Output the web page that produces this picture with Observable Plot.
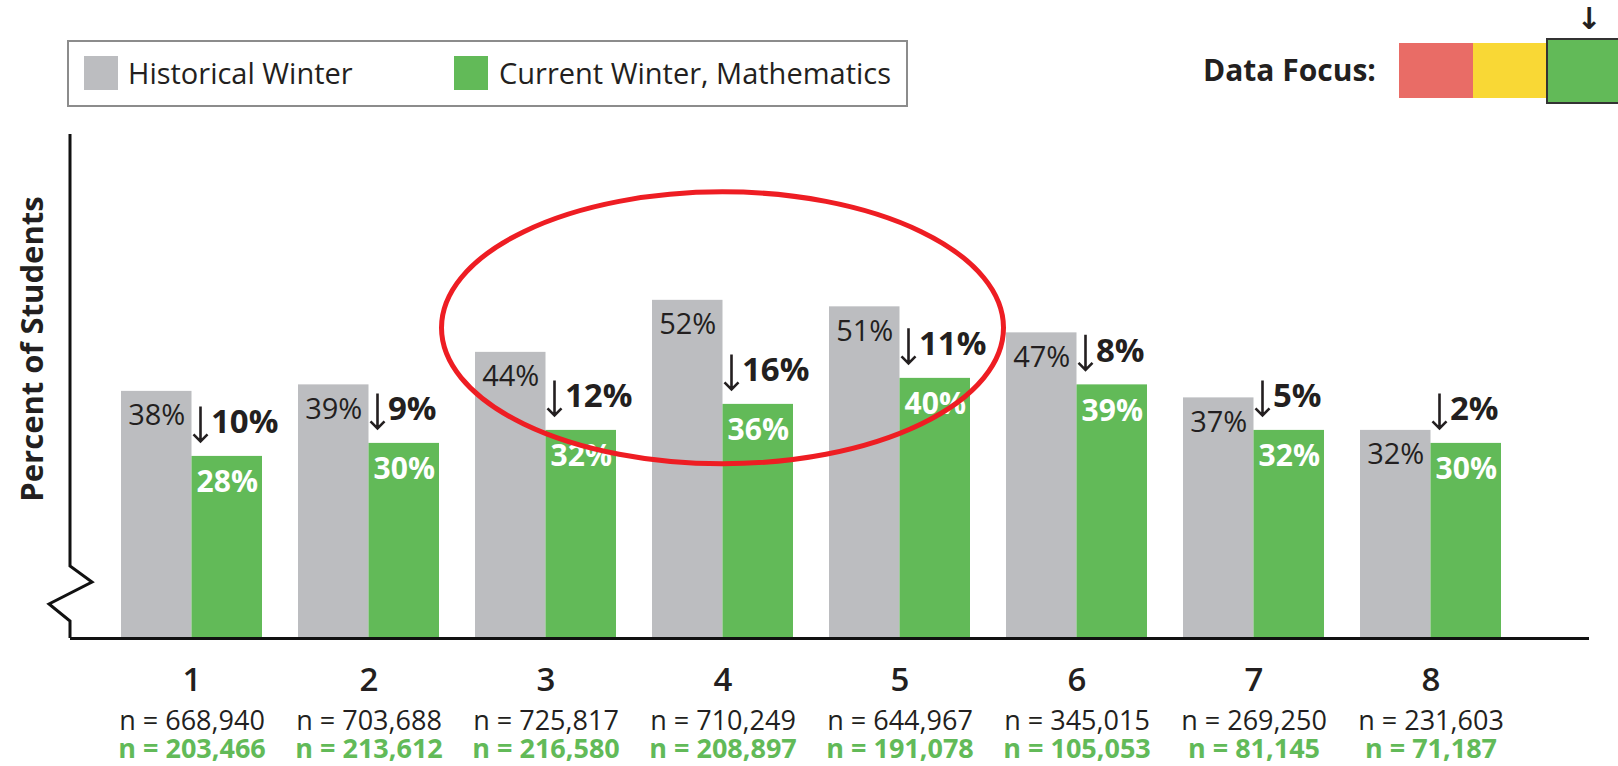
<!DOCTYPE html>
<html>
<head>
<meta charset="utf-8">
<script src="https://cdn.jsdelivr.net/npm/d3@7"></script>
<script src="https://cdn.jsdelivr.net/npm/@observablehq/plot@0.6"></script>
<style>
  html, body { margin: 0; padding: 0; background: #fff; }
  body { width: 1618px; height: 766px; overflow: hidden; font-family: "Open Sans", sans-serif; color: #231f20; }
  #top { position: relative; width: 1618px; height: 120px; }
  .box { position: absolute; left: 67px; top: 40px; width: 841px; height: 67px; border: 2px solid #8c8c8c; box-sizing: border-box; }
  .sw { position: absolute; width: 34px; height: 34px; top: 56px; }
  .lt { position: absolute; top: 56px; height: 34px; line-height: 34px; font-size: 29px; white-space: nowrap; }
  .df { position: absolute; left: 1203px; top: 50px; line-height: 40px; font-size: 30px; font-weight: bold; white-space: nowrap; }
  .fc { position: absolute; box-sizing: border-box; }
  .arr { position: absolute; left: 1569px; top: 4px; width: 40px; text-align: center; font-family: "DejaVu Sans", sans-serif; font-weight: bold; font-size: 30px; line-height: 30px; }
  #chart svg { display: block; }
</style>
</head>
<body>
<div id="top">
  <div class="box"></div>
  <div class="sw" id="sw1" style="left:84px"></div>
  <div class="lt" id="lt1" style="left:128px"></div>
  <div class="sw" id="sw2" style="left:454px"></div>
  <div class="lt" id="lt2" style="left:499px"></div>
  <div class="df" id="dfText"></div>
  <div class="fc" id="fc1" style="left:1399px; top:43px; width:74px; height:55px"></div>
  <div class="fc" id="fc2" style="left:1473px; top:43px; width:74px; height:55px"></div>
  <div class="fc" id="fc3" style="left:1546px; top:38px; width:80px; height:66px; border:2px solid #333"></div>
  <div class="arr">↓</div>
</div>
<div id="chart"></div>
<script>
// ---- data ----
const grades = ["1", "2", "3", "4", "5", "6", "7", "8"];
const historical = [38, 39, 44, 52, 51, 47, 37, 32];
const current = [28, 30, 32, 36, 40, 39, 32, 30];
const drops = [10, 9, 12, 16, 11, 8, 5, 2];
const nHistorical = [668940, 703688, 725817, 710249, 644967, 345015, 269250, 231603];
const nCurrent = [203466, 213612, 216580, 208897, 191078, 105053, 81145, 71187];
const seriesNames = ["Historical Winter", "Current Winter, Mathematics"];
const focusLabel = "Data Focus:";
const axisLabel = "Percent of Students";
const highlightGrade = "4";
const highlightLevel = 47.7;

// ---- styles ----
const GRAY = "#bcbdc0";
const GREEN = "#62ba58";
const INK = "#231f20";
const FOCUS = ["#e96c66", "#f9d835", GREEN];

document.getElementById("sw1").style.background = GRAY;
document.getElementById("sw2").style.background = GREEN;
document.getElementById("lt1").textContent = seriesNames[0];
document.getElementById("lt2").textContent = seriesNames[1];
document.getElementById("dfText").textContent = focusLabel;
["fc1", "fc2", "fc3"].forEach((id, i) => document.getElementById(id).style.background = FOCUS[i]);

const data = grades.map((g, i) => ({
  grade: g, hist: historical[i], cur: current[i], drop: drops[i], nh: nHistorical[i], nc: nCurrent[i]
}));
const fmt = d3.format(",");
const HALF = 70.5;

function axisMark(index, scales, values, dims) {
  const x0 = dims.marginLeft, top = dims.marginTop, base = dims.height - dims.marginBottom;
  const g = d3.create("svg:g");
  g.append("path")
    .attr("d", `M${x0},${top}V${base - 72}L${x0 + 22},${base - 56}L${x0 - 21},${base - 34}L${x0},${base - 17}V${base}`)
    .attr("fill", "none").attr("stroke", "#111").attr("stroke-width", 3).attr("stroke-linejoin", "miter");
  return g.node();
}

function ellipseMark(index, scales, values, dims) {
  const x = scales.x, y = scales.y;
  const bw = typeof x.bandwidth === "function" ? x.bandwidth() : x.bandwidth;
  const g = d3.create("svg:g");
  g.append("ellipse")
    .attr("cx", x(highlightGrade) + bw / 2)
    .attr("cy", y(highlightLevel))
    .attr("rx", 281).attr("ry", 136)
    .attr("fill", "none").attr("stroke", "#ee1d23").attr("stroke-width", 5);
  return g.node();
}

const plot = Plot.plot({
  width: 1618,
  height: 646,
  marginLeft: 70,
  marginRight: 29,
  marginTop: 14,
  marginBottom: 128,
  style: { fontFamily: '"Open Sans", sans-serif', color: INK, background: "white", overflow: "visible" },
  x: { domain: grades, axis: null, paddingInner: 0.2056, paddingOuter: 0.3817, align: 0.3653 },
  y: { domain: [0, 77.5], axis: null },
  marks: [
    Plot.barY(data, { x: "grade", y: "hist", fill: GRAY, insetRight: HALF }),
    Plot.barY(data, { x: "grade", y: "cur", fill: GREEN, insetLeft: HALF }),
    Plot.ruleY([0], { stroke: "#111", strokeWidth: 3 }),
    axisMark,
    Plot.text(data, { x: "grade", y: "hist", text: d => d.hist + "%", dx: -HALF / 2, dy: 34, lineAnchor: "bottom", fontSize: 29, fill: INK }),
    Plot.text(data, { x: "grade", y: "cur", text: d => d.cur + "%", dx: HALF / 2, dy: 36, lineAnchor: "bottom", fontSize: 30, fontWeight: "bold", fill: "white" }),
    Plot.vector(data, { x: "grade", y: "cur", length: 35, rotate: 180, anchor: "start", dx: 8.5, dy: -50, stroke: INK, strokeWidth: 2.6, strokeLinecap: "butt", strokeLinejoin: "miter" }),
    Plot.text(data, { x: "grade", y: "cur", text: d => d.drop + "%", dx: 19, dy: -23, textAnchor: "start", lineAnchor: "bottom", fontSize: 33, fontWeight: "bold", fill: INK }),
    Plot.text(data, { x: "grade", text: "grade", frameAnchor: "bottom", dy: 52, lineAnchor: "bottom", fontSize: 33, fontWeight: 600, fill: INK }),
    Plot.text(data, { x: "grade", text: d => "n = " + fmt(d.nh), frameAnchor: "bottom", dy: 91, lineAnchor: "bottom", fontSize: 27, fill: INK }),
    Plot.text(data, { x: "grade", text: d => "n = " + fmt(d.nc), frameAnchor: "bottom", dy: 119, lineAnchor: "bottom", fontSize: 27, fontWeight: "bold", fill: GREEN }),
    Plot.text([axisLabel], { frameAnchor: "left", textAnchor: "middle", rotate: -90, dx: -28, dy: -37.5, lineAnchor: "bottom", fontSize: 31, fontWeight: "bold", fill: INK }),
    ellipseMark
  ]
});
document.getElementById("chart").appendChild(plot);
</script>
</body>
</html>
